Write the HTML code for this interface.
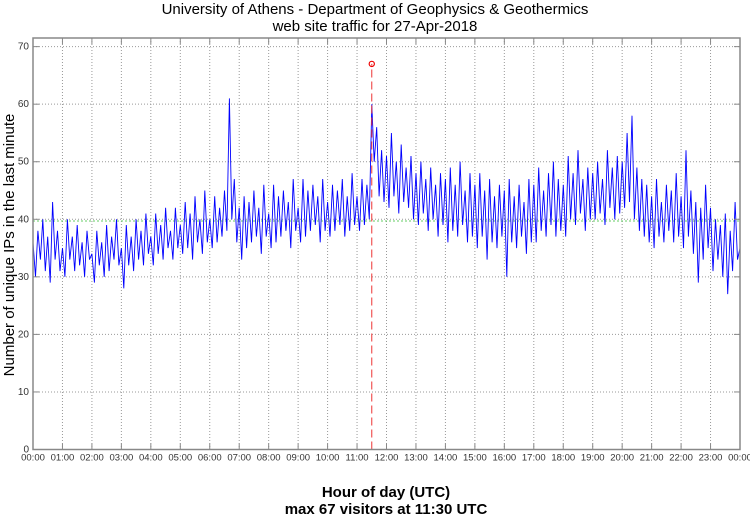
<!DOCTYPE html>
<html><head><meta charset="utf-8"><style>
body{margin:0;background:#fff;}
svg{display:block;font-family:"Liberation Sans",sans-serif;}
</style></head><body>
<svg id="chart" width="750" height="515" viewBox="0 0 750 515">
<text x="375" y="14" text-anchor="middle" font-size="15">University of Athens - Department of Geophysics &amp; Geothermics</text>
<text x="375" y="31" text-anchor="middle" font-size="15">web site traffic for 27-Apr-2018</text>
<text transform="translate(14,245) rotate(-90)" text-anchor="middle" font-size="15">Number of unique IPs in the last minute</text>
<text x="386" y="497" text-anchor="middle" font-size="15" font-weight="bold">Hour of day (UTC)</text>
<text x="386" y="514" text-anchor="middle" font-size="15" font-weight="bold">max 67 visitors at 11:30 UTC</text>
<g id="grid"></g><g id="series"></g><g id="axes"></g>
</svg>
<script>
const yTicks=[0,10,20,30,40,50,60,70];
const xTickLabels=["00:00","01:00","02:00","03:00","04:00","05:00","06:00","07:00","08:00","09:00","10:00","11:00","12:00","13:00","14:00","15:00","16:00","17:00","18:00","19:00","20:00","21:00","22:00","23:00","00:00"];
const visits=[
36,30,38,33,40,31,37,29,43,33,38,31,
35,30,40,33,37,31,39,32,36,30,38,33,
34,29,38,32,36,30,39,31,37,33,40,32,
35,28,39,32,37,31,40,33,38,32,41,34,
37,32,41,34,39,33,42,35,38,33,42,35,
39,34,43,35,41,33,44,36,40,34,45,36,
40,35,44,36,42,37,45,38,61,40,47,36,
42,33,44,35,43,36,45,37,42,34,46,37,
41,35,46,36,44,37,45,38,43,35,47,38,
42,36,47,37,45,38,46,39,44,36,47,38,
43,37,46,38,45,39,47,37,44,38,48,39,
44,38,47,39,46,40,60,50,56,44,52,43,
51,42,55,44,50,41,53,43,49,42,51,40,
48,39,50,41,47,38,49,40,46,37,48,39,
47,36,49,38,46,37,50,39,45,36,48,37,
46,35,48,37,45,33,47,36,44,35,46,37,
45,30,47,36,44,35,46,37,43,34,47,36,
46,36,49,38,45,37,48,39,50,37,47,38,
46,37,51,40,48,39,52,41,47,38,49,40,
48,40,50,41,47,39,52,42,49,40,51,41,
50,42,55,43,58,40,49,38,47,37,46,36,
44,35,47,37,43,36,46,38,45,36,48,37,
44,35,52,37,45,34,43,29,42,33,46,35,
42,31,40,33,39,30,41,27,38,31,43,33,35];
const meanValue=[39.7];
const maxPoint=[11.5,67];

const L=33,R=740,T=38,B=449.5,ymax=71.5;
const NS="http://www.w3.org/2000/svg";
const X=h=>L+(R-L)*h/24;
const Y=v=>B-(B-T)*v/ymax;
function mk(tag,attrs,parent){const e=document.createElementNS(NS,tag);for(const k in attrs)e.setAttribute(k,attrs[k]);parent.appendChild(e);return e;}
const grid=document.getElementById('grid'),series=document.getElementById('series'),axes=document.getElementById('axes');
yTicks.forEach(v=>{
  if(v>0){const g=mk('line',{x1:L,x2:R,y1:Y(v),y2:Y(v),stroke:'#999','stroke-dasharray':'1,2','stroke-width':1},grid);
  
  }
  const t=mk('text',{x:L-4,y:Y(v)+3,'text-anchor':'end','font-size':10,fill:'#333'},axes);t.textContent=v;
  
  
  mk('line',{x1:L,x2:L+6,y1:Y(v),y2:Y(v),stroke:'#888'},axes);
  mk('line',{x1:R-6,x2:R,y1:Y(v),y2:Y(v),stroke:'#888'},axes);
});
xTickLabels.forEach((s,i)=>{
  if(i>0&&i<24){const g=mk('line',{x1:X(i),x2:X(i),y1:T,y2:B,stroke:'#999','stroke-dasharray':'1,2'},grid);
  
  }
  mk('line',{x1:X(i),x2:X(i),y1:B-6,y2:B,stroke:'#888'},axes);
  mk('line',{x1:X(i),x2:X(i),y1:T,y2:T+6,stroke:'#888'},axes);
  const t=mk('text',{x:X(i),y:B+11,'text-anchor':'middle','font-size':9.5,fill:'#333'},axes);t.textContent=s;
  
  
});
const mean=mk('line',{x1:L,x2:R,y1:Y(meanValue[0]),y2:Y(meanValue[0]),stroke:'#6c6','stroke-dasharray':'2,2'},series);


const n=visits.length-1;
const pts=visits.map((v,i)=>X(24*i/n).toFixed(1)+','+Y(v).toFixed(1)).join(' ');
const pl=mk('polyline',{points:pts,fill:'none',stroke:'#00f','stroke-width':0.9},series);


const ml=mk('line',{x1:X(maxPoint[0]),x2:X(maxPoint[0]),y1:B,y2:Y(maxPoint[1]),stroke:'#e33','stroke-dasharray':'8,4','stroke-width':1},series);


const mc=mk('circle',{cx:X(maxPoint[0]),cy:Y(maxPoint[1]),r:2.6,fill:'none',stroke:'#e00','stroke-width':1.2},series);


const fr=mk('rect',{x:L,y:T,width:R-L,height:B-T,fill:'none',stroke:'#888','stroke-width':1.5},axes);


</script>
</body></html>
